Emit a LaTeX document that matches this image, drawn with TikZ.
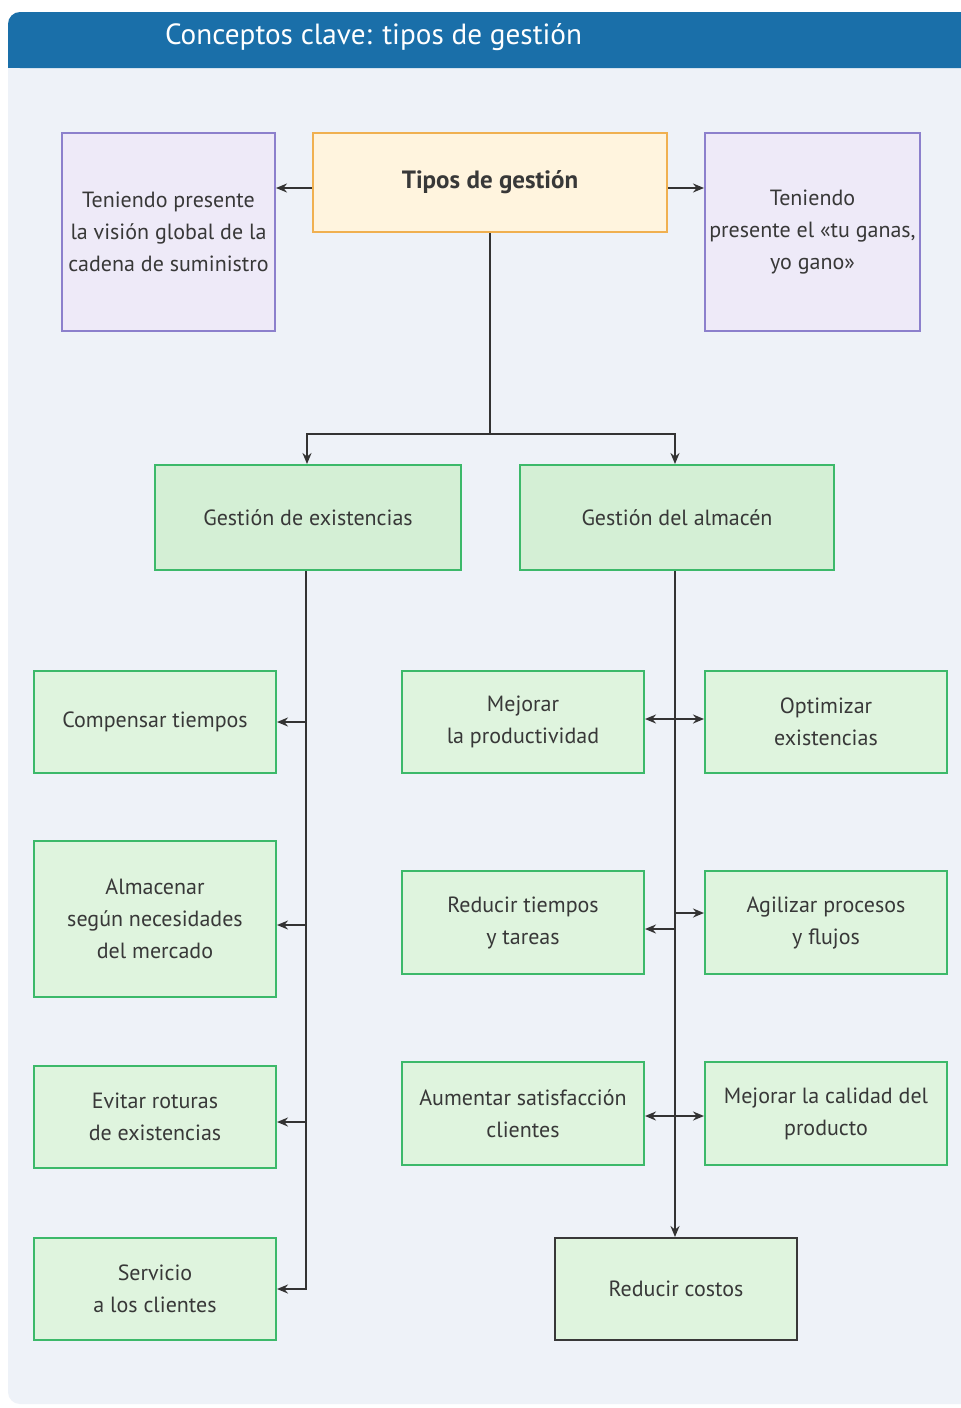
\documentclass[tikz,border=0pt]{standalone}
\usepackage{fontspec}
\setmainfont{PT Sans}
\usetikzlibrary{arrows.meta}
\definecolor{headblue}{HTML}{1A6FA9}
\definecolor{panel}{HTML}{EEF2F8}
\definecolor{creamfill}{HTML}{FFF4DE}
\definecolor{creamline}{HTML}{F0B050}
\definecolor{lilacfill}{HTML}{EEEAF8}
\definecolor{lilacline}{HTML}{8C80CC}
\definecolor{greenfill}{HTML}{DFF4DE}
\definecolor{greenmain}{HTML}{D4EFD5}
\definecolor{greenline}{HTML}{3CB96A}
\definecolor{ink}{HTML}{383838}
\definecolor{wire}{HTML}{333333}
\tikzset{
  box/.style={draw, line width=1pt, align=center, inner sep=2pt, text=ink,
    font=\fontsize{11}{16}\selectfont},
  lilacbox/.style={box, fill=lilacfill, draw=lilacline,
    minimum width=106.5pt, minimum height=99pt},
  greenbox/.style={box, fill=greenfill, draw=greenline,
    minimum width=121pt, minimum height=51pt},
  mainbox/.style={box, fill=greenmain, draw=greenline, minimum height=52.5pt},
  wireline/.style={draw=wire, line width=0.9pt},
  arr/.style={wireline, -{Stealth[length=5.5pt,width=4.5pt]}},
  dblarr/.style={wireline, {Stealth[length=5.5pt,width=4.5pt]}-{Stealth[length=5.5pt,width=4.5pt]}}
}
\begin{document}
\begin{tikzpicture}[x=0.5pt,y=-0.5pt]
\useasboundingbox (0,0) rectangle (961,1408);
\fill[white] (0,0) rectangle (961,1408);
\begin{scope}
  \clip (0,0) rectangle (961,1408);
  % light panel and blue title band
  \fill[panel, rounded corners=6pt] (8,12) rectangle (990,1404);
  \fill[headblue, rounded corners=6pt] (8,12) rectangle (990,68);
  \fill[headblue] (8,40) rectangle (990,68);
\end{scope}
\node[anchor=west, text=white, font=\fontsize{14.6}{16}\selectfont] (title) at (158,37)
  {Conceptos clave: tipos de gestión};

% top level
\node[box, fill=creamfill, draw=creamline, minimum width=177pt, minimum height=49.5pt,
  font=\fontsize{12.5}{16}\selectfont\bfseries] (top) at (490,182.5) {Tipos de gestión};
\node[lilacbox] (lp) at (168.5,232) {Teniendo presente\\la visión global de la\\cadena de suministro};
\node[lilacbox, minimum width=107.5pt] (rp) at (812.5,232) {Teniendo\\presente el «tu ganas,\\yo gano»};

% second level
\node[mainbox, minimum width=153pt] (ge) at (308,517.5) {Gestión de existencias};
\node[mainbox, minimum width=157pt] (ga) at (677,517.5) {Gestión del almacén};

% left column
\node[greenbox] (l1) at (155,722) {Compensar tiempos};
\node[greenbox, minimum height=78pt] (l2) at (155,919) {Almacenar\\según necesidades\\del mercado};
\node[greenbox] (l3) at (155,1117) {Evitar roturas\\de existencias};
\node[greenbox] (l4) at (155,1289) {Servicio\\a los clientes};

% middle and right columns
\node[greenbox] (m1) at (523,722) {Mejorar\\la productividad};
\node[greenbox] (r1) at (826,722) {Optimizar\\existencias};
\node[greenbox, minimum height=51.5pt] (m2) at (523,922.5) {Reducir tiempos\\y tareas};
\node[greenbox, minimum height=51.5pt] (r2) at (826,922.5) {Agilizar procesos\\y flujos};
\node[greenbox, minimum height=51.5pt] (m3) at (523,1113.5) {Aumentar satisfacción\\clientes};
\node[greenbox, minimum height=51.5pt] (r3) at (826,1113.5) {Mejorar la calidad del\\producto};
\node[greenbox, draw=ink] (rc) at (676,1289) {Reducir costos};

% connectors from the top box
\draw[arr] ([yshift=-2.75pt]top.west) -- ([yshift=-2.75pt]top.west -| lp.east);
\draw[arr] ([yshift=-2.75pt]top.east) -- ([yshift=-2.75pt]top.east -| rp.west);
\coordinate (split) at (top.south |- 0,434);
\draw[wireline] (top.south) -- (split);
\draw[arr] (split) -| ([xshift=-0.5pt]ge.north);
\draw[arr] (split) -| ([xshift=-1pt]ga.north);

% left trunk
\coordinate (ltop) at ([xshift=-1pt]ge.south);
\draw[arr] (ltop) |- (l4.east);
\draw[arr] (ltop |- l1.east) -- (l1.east);
\draw[arr] ([yshift=-3pt]ltop |- l2.east) -- ([yshift=-3pt]l2.east);
\draw[arr] ([yshift=-2.5pt]ltop |- l3.east) -- ([yshift=-2.5pt]l3.east);

% right trunk
\coordinate (rtop) at ([xshift=-1pt]ga.south);
\draw[arr] (rtop) -- (rtop |- rc.north);
\draw[dblarr] ([yshift=1.5pt]m1.east) -- ([yshift=1.5pt]r1.west);
\draw[arr] (rtop |- r2.west) ++(0,-9.5) -- ([yshift=4.75pt]r2.west);
\draw[arr] (rtop |- m2.east) ++(0,6.5) -- ([yshift=-3.25pt]m2.east);
\draw[dblarr] ([yshift=-1.25pt]m3.east) -- ([yshift=-1.25pt]r3.west);
\end{tikzpicture}
\end{document}
